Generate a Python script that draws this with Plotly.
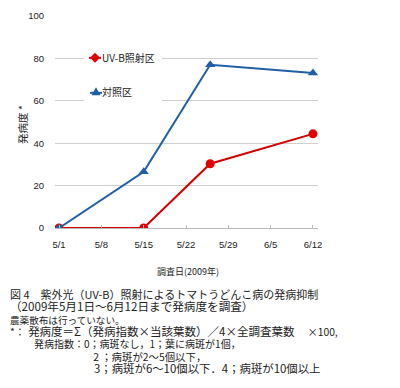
import plotly.graph_objects as go

# Data
dates = ["2009-05-01", "2009-05-15", "2009-05-26", "2009-06-12"]
uvb = [0, 0, 30.3, 44.4]
control = [0, 26.5, 77.0, 73.1]
series_names = ["UV-B照射区", "対照区"]
tick_dates = ["2009-05-01", "2009-05-08", "2009-05-15", "2009-05-22",
              "2009-05-29", "2009-06-05", "2009-06-12"]
tick_labels = ["5/1", "5/8", "5/15", "5/22", "5/29", "6/5", "6/12"]
y_ticks = [0, 20, 40, 60, 80, 100]
x_title = "調査日(2009年)"
y_title = "発病度 *"
caption_lines = [
    "図 4　紫外光（UV-B）照射によるトマトうどんこ病の発病抑制",
    "（2009年5月1日～6月12日まで発病度を調査）",
    "農薬散布は行っていない。",
    "*：",
    "発病度＝Σ（発病指数×当該葉数）／4×全調査葉数",
    "×100,",
    "発病指数：0；病斑なし，1；葉に病斑が1個，",
    "2 ；病斑が2～5個以下，",
    "3；病斑が6～10個以下．4；病斑が10個以上",
]

RED = "#e00000"
BLUE = "#1f5fa6"

# plot area in pixels
L, T, W, H = 55, 10, 263, 218


def px(x):
    return (x - L) / W


def py(y):
    return (T + H - y) / H


def span(text, size):
    return '<span style="font-size:%spx">%s</span>' % (size, text)


SP = "\u3000"

fig = go.Figure()
fig.add_trace(go.Scatter(x=dates, y=uvb, mode="lines+markers", name=series_names[0],
                         line=dict(color="#d40000", width=2),
                         marker=dict(symbol="circle", size=9, color=RED),
                         showlegend=False))
fig.add_trace(go.Scatter(x=dates, y=control, mode="lines+markers", name=series_names[1],
                         line=dict(color=BLUE, width=2),
                         marker=dict(symbol="triangle-up", size=9, color=BLUE),
                         showlegend=False))

annotations = [
    dict(text=x_title, x=px(188), y=py(273), xref="paper", yref="paper",
         showarrow=False, font=dict(size=9, color="#222"), xanchor="center", yanchor="middle"),
    dict(text=y_title, x=px(23), y=py(122), xref="paper", yref="paper", textangle=-90,
         showarrow=False, font=dict(size=10.5, color="#222"), xanchor="center", yanchor="middle"),
]
# legend texts
leg_y = [53, 88]
for name, ly in zip(series_names, leg_y):
    annotations.append(dict(text=name, x=px(100), y=py(ly), xref="paper", yref="paper",
                            showarrow=False, xanchor="left", yanchor="middle",
                            font=dict(size=10, color="#222")))

c = caption_lines
caption_html = "<br>".join([
    span(c[0], 11),
    span(c[1], 11.6),
    span(c[2], 9.6),
    span(c[3], 10.3) + span(SP, 3) + span(c[4], 11.5) + span(SP * 2, 6.5) + span(c[5], 10.3),
    span(SP * 3, 8) + span(c[6], 10),
    span(SP * 8, 10.4) + span(c[7], 10.4),
    span(SP * 8, 10.5) + span(c[8], 11.4),
])
annotations.append(dict(text=caption_html, x=px(8), y=py(286), xref="paper", yref="paper",
                        showarrow=False, xanchor="left", yanchor="top", align="left",
                        font=dict(size=9.5, color="#222", family="Noto Sans CJK JP")))

shapes = [
    # white background of legend box (breaks gridline like original)
    dict(type="rect", xref="paper", yref="paper", x0=px(84), x1=px(162), y0=py(100), y1=py(40),
         fillcolor="white", line=dict(width=0), layer="above"),
    # legend symbols
    dict(type="line", xref="paper", yref="paper", x0=px(89), x1=px(101), y0=py(53), y1=py(53),
         line=dict(color="#d40000", width=2), layer="above"),
    dict(type="path", xref="paper", yref="paper", xsizemode="pixel", ysizemode="pixel",
         xanchor=px(95), yanchor=py(53), path="M-5,0 L0,5 L5,0 L0,-5 Z",
         fillcolor=RED, line=dict(width=0), layer="above"),
    dict(type="line", xref="paper", yref="paper", x0=px(90), x1=px(102), y0=py(89), y1=py(89),
         line=dict(color=BLUE, width=2), layer="above"),
    dict(type="path", xref="paper", yref="paper", xsizemode="pixel", ysizemode="pixel",
         xanchor=px(96), yanchor=py(88), path="M-4.5,-3.5 L4.5,-3.5 L0,4.5 Z",
         fillcolor=BLUE, line=dict(width=0), layer="above"),
]

fig.update_layout(
    width=400, height=388,
    margin=dict(l=L, r=400 - L - W, t=T, b=388 - T - H),
    paper_bgcolor="white", plot_bgcolor="white",
    font=dict(family="Noto Sans CJK JP, Liberation Sans", color="#222"),
    showlegend=False,
    annotations=annotations,
    shapes=shapes,
    xaxis=dict(type="date", range=["2009-04-30 08:00", "2009-06-12 20:00"],
               tickvals=tick_dates, ticktext=tick_labels,
               showgrid=False, showline=True, linecolor="#bbbbbb", linewidth=1,
               ticks="inside", ticklen=3, tickcolor="#bbbbbb",
               tickfont=dict(size=9.5, family="Liberation Sans Narrow, Liberation Sans", color="#222"),
               ticklabelstandoff=8, zeroline=False, fixedrange=True),
    yaxis=dict(range=[0, 100], tickvals=y_ticks, showgrid=True, gridcolor="#cfcfcf",
               gridwidth=1, showline=False, zeroline=False,
               tickfont=dict(size=9.5, family="Liberation Sans Narrow, Liberation Sans", color="#222"),
               ticklabelstandoff=10, fixedrange=True),
)

fig.write_html("out.html", config={"displayModeBar": False},
               post_script="document.body.style.margin='0';")
